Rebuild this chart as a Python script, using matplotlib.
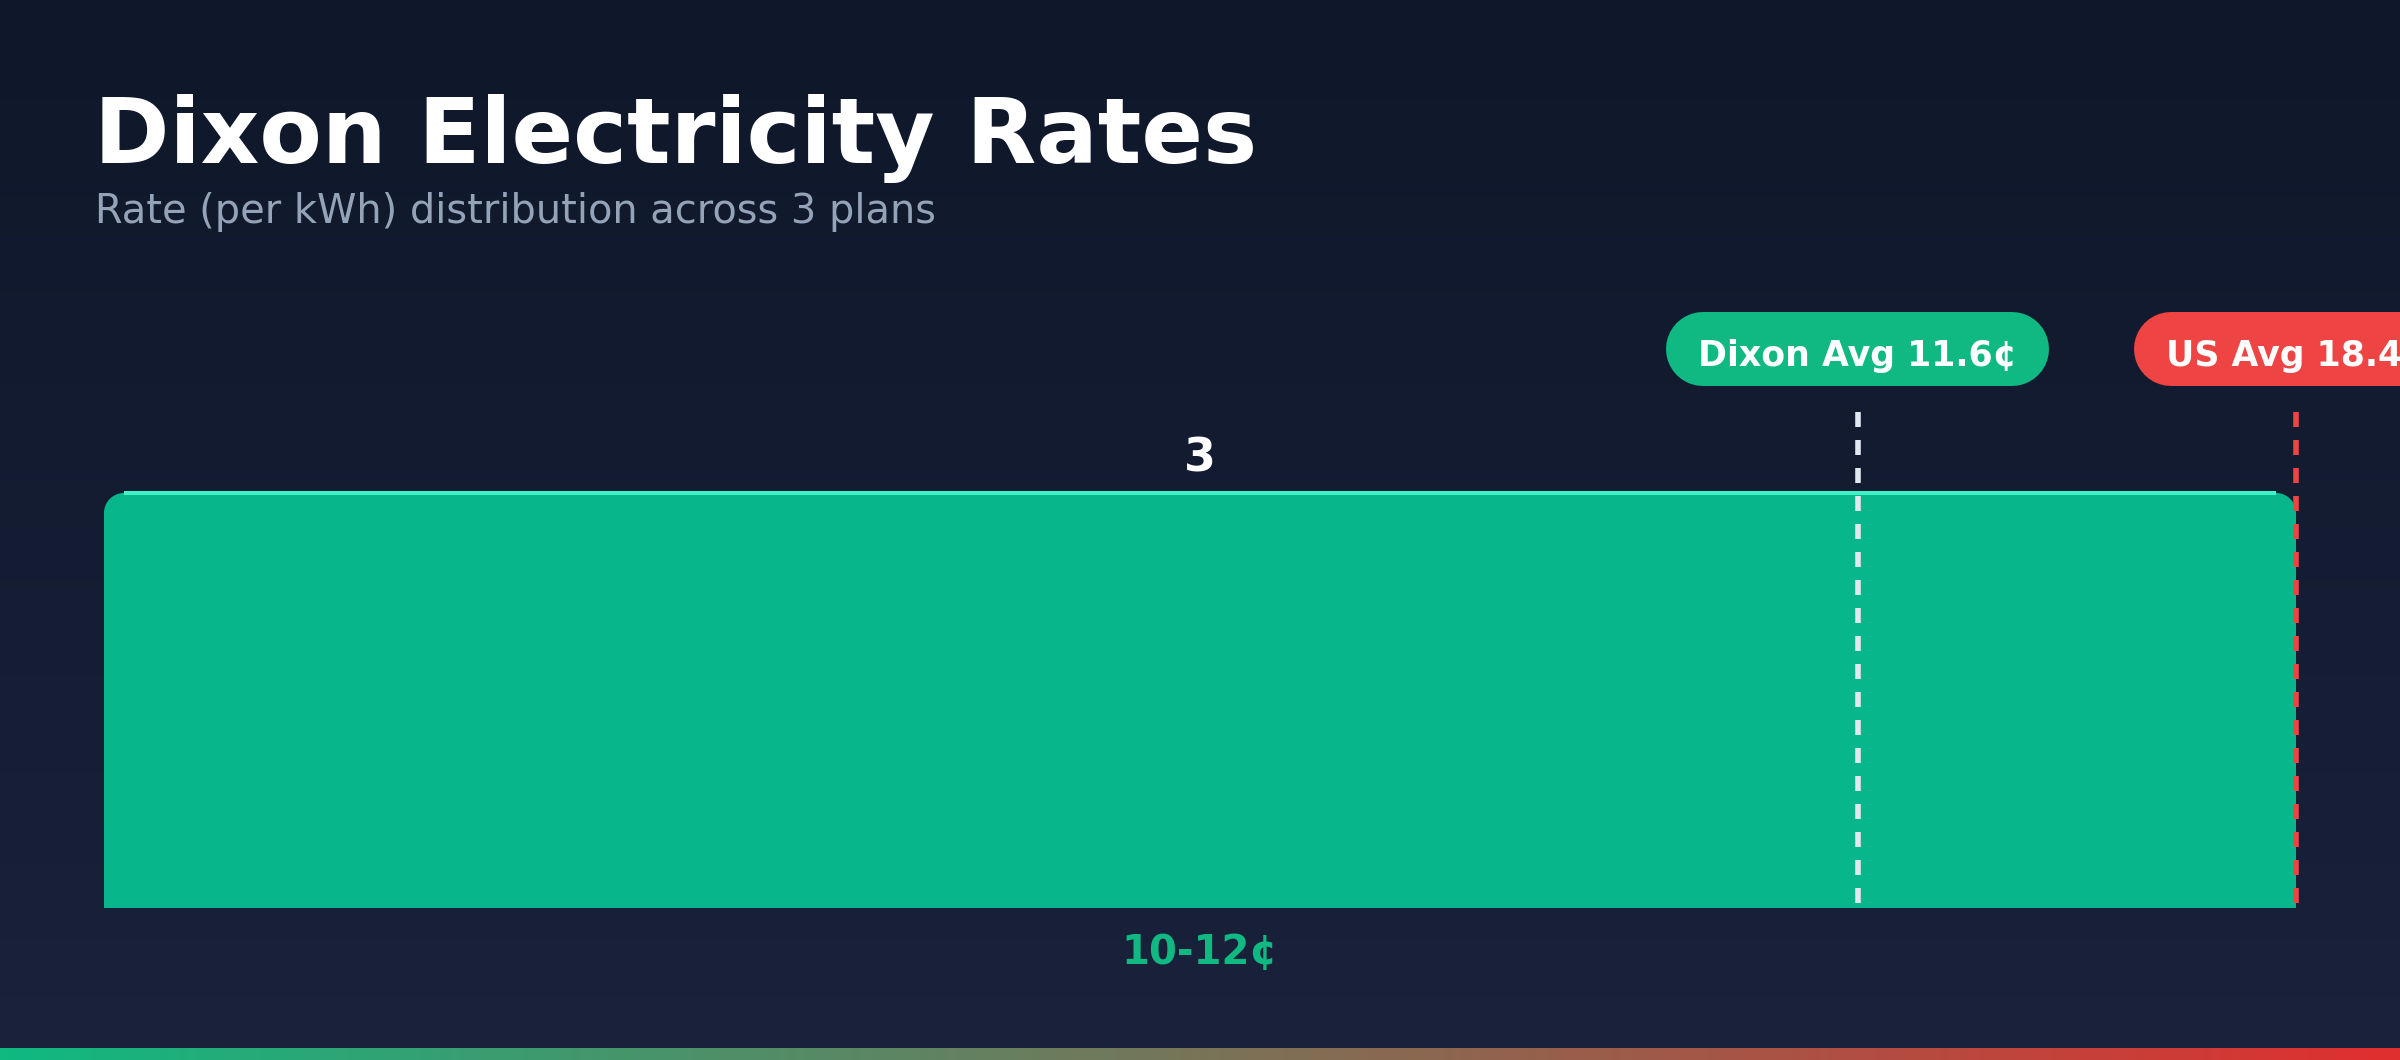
import numpy as np
import matplotlib
matplotlib.use("Agg")
import matplotlib.pyplot as plt
from matplotlib.path import Path
from matplotlib.patches import PathPatch
from matplotlib.transforms import IdentityTransform
from matplotlib.colors import LinearSegmentedColormap

# ---------------- data ----------------
title = "Dixon Electricity Rates"
subtitle = "Rate (per kWh) distribution across 3 plans"
bin_labels = ["10-12¢"]
bin_lows = [10.0]
bin_highs = [12.0]
counts = [3]
dixon_avg = 11.6
us_avg = 18.4
ref_labels = [f"Dixon Avg {dixon_avg}¢", f"US Avg {us_avg}¢"]
ref_values = [dixon_avg, us_avg]
ref_line_colors = ["#e2e8f0", "#ef4444"]
ref_badge_colors = ["#10b981", "#ef4444"]

# ---------------- figure ----------------
W, H, DPI = 2400, 1060, 100
PT = 72.0 / DPI  # points per pixel
plt.rcParams['font.family'] = ['DejaVu Sans']
fig = plt.figure(figsize=(W / DPI, H / DPI), dpi=DPI)
fig.patch.set_facecolor("#0f172a")
IDT = IdentityTransform()

# background vertical gradient
bg = fig.add_axes([0, 0, 1, 1], zorder=-10)
bg.axis('off')
grad = np.linspace(0, 1, 256)[:, None]
bg.imshow(grad, aspect='auto', origin='upper', extent=[0, 1, 0, 1],
          cmap=LinearSegmentedColormap.from_list("bg", ["#0f172a", "#1a223c"]))

# bottom accent gradient strip
strip = fig.add_axes([0, 0, 1, 12 / H], zorder=-5)
strip.axis('off')
strip.imshow(np.linspace(0, 1, 512)[None, :], aspect='auto', extent=[0, 1, 0, 1],
             cmap=LinearSegmentedColormap.from_list("acc", ["#10b981", "#e02f2f"]))

# titles
fig.text(94 / W, 1 - 163 / H, title, color="white", fontsize=65.5, fontweight="bold",
         ha="left", va="baseline")
fig.text(95 / W, 1 - 223 / H, subtitle, color="#94a3b8", fontsize=28.7,
         ha="left", va="baseline")

# ---------------- histogram axes ----------------
ax = fig.add_axes([104 / W, 152 / H, 2192 / W, 496 / H])
ax.axis('off')
ax.set_xlim(min(bin_lows), max(bin_highs))
ax.set_ylim(0, max(counts) * 1.195)

r = 20
k = 0.5523 * r
for lo, hi, c, lab in zip(bin_lows, bin_highs, counts, bin_labels):
    x0, y0 = ax.transData.transform((lo, 0))
    x1, y1 = ax.transData.transform((hi, c))
    verts = [(x0, y0), (x0, y1 - r),
             (x0, y1 - r + k), (x0 + r - k, y1), (x0 + r, y1),
             (x1 - r, y1),
             (x1 - r + k, y1), (x1, y1 - r + k), (x1, y1 - r),
             (x1, y0), (x0, y0)]
    codes = [Path.MOVETO, Path.LINETO,
             Path.CURVE4, Path.CURVE4, Path.CURVE4,
             Path.LINETO,
             Path.CURVE4, Path.CURVE4, Path.CURVE4,
             Path.LINETO, Path.CLOSEPOLY]
    ax.add_patch(PathPatch(Path(verts, codes), transform=IDT, facecolor="#07b68a",
                           edgecolor="none", clip_on=False, zorder=2))
    ax.plot([x0 + r, x1 - r], [y1, y1], transform=IDT, color="#3ff2c8",
            lw=4 * PT, solid_capstyle="butt", clip_on=False, zorder=3)
    cx = (lo + hi) / 2
    ax.annotate(str(c), xy=(cx, c), xytext=(0, 21 * PT), textcoords="offset points",
                ha="center", va="baseline", color="white", fontsize=33,
                fontweight="bold", zorder=5)
    ax.annotate(lab, xy=(cx, 0), xytext=(0, -56 * PT), textcoords="offset points",
                ha="center", va="baseline", color="#10b981", fontsize=29,
                fontweight="bold", zorder=5)
ax.set_xlim(min(bin_lows), max(bin_highs))
ax.set_ylim(0, max(counts) * 1.195)

# reference lines + pill badges
lw = 4.0
fig.canvas.draw()
renderer = fig.canvas.get_renderer()
ytop = ax.get_ylim()[1]
badge_h = 74
badge_yc = 1060 - 349
for val, lab, lcol, bcol in zip(ref_values, ref_labels, ref_line_colors, ref_badge_colors):
    xv = min(max(val, min(bin_lows)), max(bin_highs))
    ax.plot([xv, xv], [ytop, 0], color=lcol, lw=lw,
            linestyle=(0, (15 * PT / lw, 13 * PT / lw)), clip_on=False, zorder=4)
    xd, _ = ax.transData.transform((xv, 0))
    t = fig.text(xd / W, 694 / H, lab, color="white", fontsize=25,
                 fontweight="bold", ha="center", va="baseline", zorder=11)
    w = t.get_window_extent(renderer).width
    pad = 32
    half = w / 2 + pad - badge_h / 2
    pill = plt.Line2D([xd - half, xd + half], [badge_yc, badge_yc], transform=IDT,
                      color=bcol, lw=badge_h * PT, solid_capstyle="round", zorder=10)
    fig.add_artist(pill)

fig.savefig("out.png", dpi=DPI, facecolor=fig.get_facecolor())
